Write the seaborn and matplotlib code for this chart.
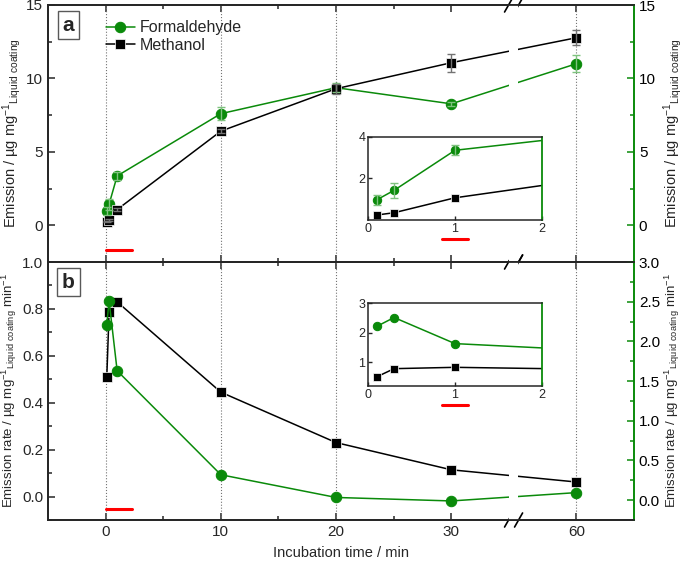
import numpy as np
import matplotlib
matplotlib.use("Agg")
import matplotlib.pyplot as plt
import seaborn as sns

# ── données ──────────────────────────────────────────────────────
t_min = [0.1, 0.3, 1, 10, 20, 30, 60]

form_emission = [0.97, 1.43, 3.36, 7.6, 9.37, 8.27, 11.0]
form_emission_err = [0.25, 0.37, 0.25, 0.45, 0.3, 0.12, 0.58]
meth_emission = [0.24, 0.35, 1.07, 6.41, 9.3, 11.07, 12.77]
meth_emission_err = [0.04, 0.05, 0.1, 0.15, 0.35, 0.62, 0.52]

meth_rate = [0.508, 0.785, 0.83, 0.445, 0.23, 0.114, 0.062]   # axe gauche
form_rate = [2.21, 2.51, 1.63, 0.32, 0.034, -0.01, 0.095]     # axe droit

x_ticks = [0, 10, 20, 30, 60]
x_minor = [5, 15, 25]
grid_x = [0, 10, 20, 60]
red_bar_main = [0, 2.25]
red_bar_inset = [0.85, 1.15]

GREEN = "#0a8a0a"
GREEN_ERR = "#7fc27f"
BLACK = "black"

# ── style ────────────────────────────────────────────────────────
sns.set_theme(style="ticks")
plt.rcParams["font.family"] = ["Liberation Sans", "DejaVu Sans"]
plt.rcParams["mathtext.default"] = "regular"
plt.rcParams["axes.linewidth"] = 1.3

# axe x coupé entre ~35 et ~54.5
BRK_LO, BRK_HI = 35.4, 54.55


def fwd(x):
    x = np.asarray(x, dtype=float)
    return np.where(x <= BRK_LO, x,
                    np.where(x >= BRK_HI, x - (BRK_HI - BRK_LO), BRK_LO))


def inv(x):
    x = np.asarray(x, dtype=float)
    return np.where(x <= BRK_LO, x, x + (BRK_HI - BRK_LO))


W, H = 685, 561
fig = plt.figure(figsize=(W / 100, H / 100), dpi=100)

ax_a = fig.add_axes([48 / W, 1 - 262 / H, 586 / W, 257 / H])
ax_b = fig.add_axes([48 / W, 1 - 520 / H, 586 / W, 258 / H])

for ax in (ax_a, ax_b):
    ax.set_xscale("function", functions=(fwd, inv))
    ax.set_xlim(-5, 65)

ax_a2 = ax_a.twinx()
ax_b2 = ax_b.twinx()

line_kw = dict(linewidth=1.1, estimator=None, sort=False)

# ══════════════════════════════════════════════════════════════════
# PANNEAU a : émission cumulée
# ══════════════════════════════════════════════════════════════════
ax_a.errorbar(t_min, form_emission, yerr=form_emission_err, fmt="none",
              ecolor=GREEN_ERR, elinewidth=1, capsize=3, zorder=2.1)
ax_a.errorbar(t_min, meth_emission, yerr=meth_emission_err, fmt="none",
              ecolor="0.45", elinewidth=1, capsize=3, zorder=2.1)
sns.lineplot(x=t_min, y=form_emission, ax=ax_a, color=GREEN, marker="o",
             markersize=7.5, markeredgecolor=GREEN, label="Formaldehyde",
             **line_kw)
sns.lineplot(x=t_min, y=meth_emission, ax=ax_a, color=BLACK, marker="s",
             markersize=7, markeredgecolor="white", markeredgewidth=0.5,
             label="Methanol", **line_kw)

ax_a.set_ylim(-2.5, 15)
ax_a2.set_ylim(-2.5, 15)
ax_a.set_yticks([0, 5, 10, 15])
ax_a.set_yticks([-2.5, 2.5, 7.5, 12.5], minor=True)
ax_a2.set_yticks([0, 5, 10, 15])
ax_a2.set_yticks([2.5, 7.5, 12.5], minor=True)
lab_a = r"Emission / µg mg$^{-1}$$_{Liquid\ coating}$"
ax_a.set_ylabel(lab_a, fontsize=10.5, labelpad=2)
ax_a2.set_ylabel(lab_a, fontsize=10.5, labelpad=4)
ax_a.plot(red_bar_main, [-1.7, -1.7], color="red", lw=2.2, zorder=3)

ax_a.legend(loc="upper left", bbox_to_anchor=(0.088, 0.965), frameon=False,
            fontsize=11.5, handlelength=1.8, handletextpad=0.3,
            labelspacing=0.15, borderaxespad=0)

# ══════════════════════════════════════════════════════════════════
# PANNEAU b : taux d'émission
# ══════════════════════════════════════════════════════════════════
sns.lineplot(x=t_min, y=meth_rate, ax=ax_b, color=BLACK, marker="s",
             markersize=7, markeredgecolor="white", markeredgewidth=0.5,
             legend=False, **line_kw)
sns.lineplot(x=t_min, y=form_rate, ax=ax_b2, color=GREEN, marker="o",
             markersize=7.5, markeredgecolor=GREEN, legend=False, **line_kw)

ax_b.set_ylim(-0.1, 1.0)
ax_b.set_yticks(np.arange(0, 1.01, 0.2))
ax_b.set_yticks(np.arange(-0.1, 1.0, 0.2), minor=True)
ax_b.yaxis.set_major_formatter(matplotlib.ticker.FormatStrFormatter("%.1f"))
ax_b2.set_ylim(-0.25, 3.0)
ax_b2.set_yticks(np.arange(0, 3.01, 0.5))
ax_b2.set_yticks(np.arange(0.25, 3.0, 0.5), minor=True)
ax_b2.yaxis.set_major_formatter(matplotlib.ticker.FormatStrFormatter("%.1f"))
lab_b = r"Emission rate / µg mg$^{-1}$$_{Liquid\ coating}$ min$^{-1}$"
ax_b.set_ylabel(lab_b, fontsize=9.5, labelpad=2)
ax_b2.set_ylabel(lab_b, fontsize=9.5, labelpad=2)
ax_b.plot(red_bar_main, [-0.055, -0.055], color="red", lw=2.2, zorder=3)

ax_b.set_xlabel("Incubation time / min", fontsize=10.5, labelpad=5)

# ── axes communs ─────────────────────────────────────────────────
for ax, ax2, letter in ((ax_a, ax_a2, "a"), (ax_b, ax_b2, "b")):
    for v in grid_x:
        ax.axvline(v, color="0.45", ls=":", lw=0.8, zorder=1)
    ax.set_xticks(x_ticks)
    ax.set_xticks(x_minor, minor=True)
    ax.set_xticklabels([str(v) for v in x_ticks])
    ax.tick_params(axis="both", which="both", direction="in", top=True,
                   right=False, labelsize=11)
    ax.tick_params(which="major", length=5, width=1.1)
    ax.tick_params(which="minor", length=3, width=1.1)
    ax2.tick_params(axis="y", which="both", direction="in", colors=GREEN,
                    labelcolor="black", labelsize=11)
    ax2.tick_params(which="major", length=5, width=1.1)
    ax2.tick_params(which="minor", length=3, width=1.1)
    ax2.spines["right"].set_color(GREEN)
    ax2.spines["right"].set_linewidth(1.4)
    ax.spines["right"].set_visible(False)

    # coupure des lignes au niveau de la rupture d'axe
    for a in (ax, ax2):
        a.axvspan(BRK_LO - 0.38, BRK_HI + 0.38, color="white", lw=0,
                  zorder=2.3)

    # repères "//"
    span = float(fwd(65)) + 5
    fx = (float(fwd(BRK_LO)) + 5) / span
    dx, dy = 4 / 586, 7 / 257
    for yy in (0, 1):
        for off in (-5 / 586, 5 / 586):
            c = fx + off
            ax.plot([c - dx, c + dx], [yy - dy, yy + dy], color="black",
                    lw=1.2, transform=ax.transAxes, clip_on=False, zorder=5)

    ax.text(0.035, 0.922, letter, transform=ax.transAxes, ha="center",
            va="center", fontsize=15, fontweight="bold", zorder=6,
            bbox=dict(boxstyle="square,pad=0.22", fc="white", ec="0.35",
                      lw=1))

ax_a.tick_params(axis="x", labelbottom=False)

# ══════════════════════════════════════════════════════════════════
# ENCARTS (zoom 0–2 min)
# ══════════════════════════════════════════════════════════════════
ins_a = fig.add_axes([368 / W, 1 - 220 / H, 174 / W, 83 / H])
ins_b = fig.add_axes([368 / W, 1 - 386 / H, 174 / W, 83 / H])

ins_a.errorbar(t_min, form_emission, yerr=form_emission_err, fmt="none",
               ecolor=GREEN_ERR, elinewidth=1, capsize=3, zorder=2.1)
sns.lineplot(x=t_min, y=form_emission, ax=ins_a, color=GREEN, marker="o",
             markersize=6, markeredgecolor=GREEN, legend=False, **line_kw)
sns.lineplot(x=t_min, y=meth_emission, ax=ins_a, color=BLACK, marker="s",
             markersize=5.5, markeredgecolor="white", markeredgewidth=0.5,
             legend=False, **line_kw)
ins_a.set_ylim(0, 4)
ins_a.set_yticks([2, 4])

sns.lineplot(x=t_min, y=form_rate, ax=ins_b, color=GREEN, marker="o",
             markersize=6, markeredgecolor=GREEN, legend=False, **line_kw)
sns.lineplot(x=t_min, y=meth_rate, ax=ins_b, color=BLACK, marker="s",
             markersize=5.5, markeredgecolor="white", markeredgewidth=0.5,
             legend=False, **line_kw)
ins_b.set_ylim(0.2, 3)
ins_b.set_yticks([1, 2, 3])

for ins in (ins_a, ins_b):
    ins.set_xlim(0, 2)
    ins.set_xticks([0, 1, 2])
    ins.set_xlabel("")
    ins.set_ylabel("")
    ins.tick_params(direction="in", length=3, width=1, labelsize=9, pad=2)
    for s in ins.spines.values():
        s.set_linewidth(1.1)
    ins.spines["right"].set_color(GREEN)
    ins.spines["right"].set_linewidth(1.3)
    ins.plot(red_bar_inset, [-0.23, -0.23], color="red", lw=2.2,
             transform=ins.get_xaxis_transform(), clip_on=False)

fig.savefig("out.png", dpi=100)
